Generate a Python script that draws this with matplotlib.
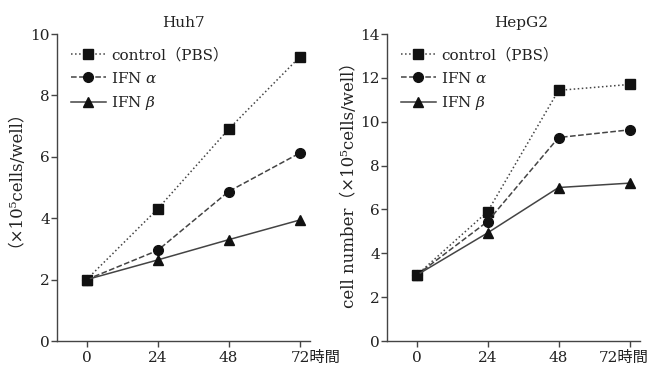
import matplotlib
matplotlib.use("Agg")
import matplotlib.pyplot as plt

plt.rcParams['font.family'] = ['DejaVu Serif', 'Noto Sans CJK JP', 'DejaVu Sans']
plt.rcParams['mathtext.fontset'] = 'dejavuserif'

hours = [0, 24, 48, 72]
tick_labels = ["0", "24", "48", ""]
last_tick_label = "72時間"
series_names = ["control（PBS）", "IFN $\\alpha$", "IFN $\\beta$"]

huh7_control = [2.0, 4.3, 6.9, 9.25]
huh7_ifna = [2.0, 2.95, 4.87, 6.12]
huh7_ifnb = [2.0, 2.64, 3.3, 3.94]

hepg2_control = [3.0, 5.9, 11.43, 11.7]
hepg2_ifna = [3.0, 5.45, 9.28, 9.63]
hepg2_ifnb = [3.0, 4.93, 7.0, 7.2]

styles = [dict(ls=':', marker='s'), dict(ls='--', marker='o'), dict(ls='-', marker='^')]

fig = plt.figure(figsize=(6.53, 3.67), dpi=100)
ax1 = fig.add_axes([0.0873, 0.0708, 0.3874, 0.8365])
ax2 = fig.add_axes([0.5926, 0.0708, 0.3874, 0.8365])

panels = [
    (ax1, "Huh7", [huh7_control, huh7_ifna, huh7_ifnb], 10, "（×10⁵cells/well）", -9, 0.5, -0.163, 0.555),
    (ax2, "HepG2", [hepg2_control, hepg2_ifna, hepg2_ifnb], 14, "cell number（×10⁵cells/well）", -31, 0.53, -0.115, 0.52),
]

for ax, title, data, ymax, ylabel, dx72, tx, lx, ly in panels:
    for vals, name, st in zip(data, series_names, styles):
        ax.plot(hours, vals, color='#444444', lw=1.1, ls=st['ls'], marker=st['marker'],
                markersize=7, markerfacecolor='#111111', markeredgecolor='#111111',
                label=name, clip_on=False)
    ax.set_xlim(-10, 75.5)
    ax.set_ylim(0, ymax)
    ax.set_yticks(range(0, ymax + 1, 2))
    ax.set_xticks(hours)
    ax.set_xticklabels(tick_labels, fontsize=11)
    ax.annotate(last_tick_label, xy=(hours[-1], 0), xycoords=('data', 'axes fraction'),
                xytext=(dx72 * 0.72, -7.3), textcoords='offset points',
                ha='left', va='top', fontsize=11, color='#222222', annotation_clip=False)
    for s in ['top', 'right']:
        ax.spines[s].set_visible(False)
    for s in ['left', 'bottom']:
        ax.spines[s].set_color('#444444')
        ax.spines[s].set_linewidth(1.0)
    ax.tick_params(axis='both', labelsize=11, color='#444444', length=4, width=1.0,
                   labelcolor='#222222')
    ax.tick_params(axis='x', pad=3)
    ax.tick_params(axis='y', pad=1)
    ax.set_title(title, fontsize=11, x=tx, y=1.0, pad=5, color='#222222')
    ax.set_ylabel(ylabel, fontsize=12, color='#222222')
    ax.yaxis.set_label_coords(lx, ly)
    leg = ax.legend(loc='upper left', bbox_to_anchor=(0.0, 1.0), frameon=False, fontsize=11,
                    handlelength=2.3, handletextpad=0.35, labelspacing=0.55,
                    borderaxespad=0.55, borderpad=0.35)
    for t in leg.get_texts():
        t.set_color('#222222')

fig.savefig("out.png", dpi=100)
